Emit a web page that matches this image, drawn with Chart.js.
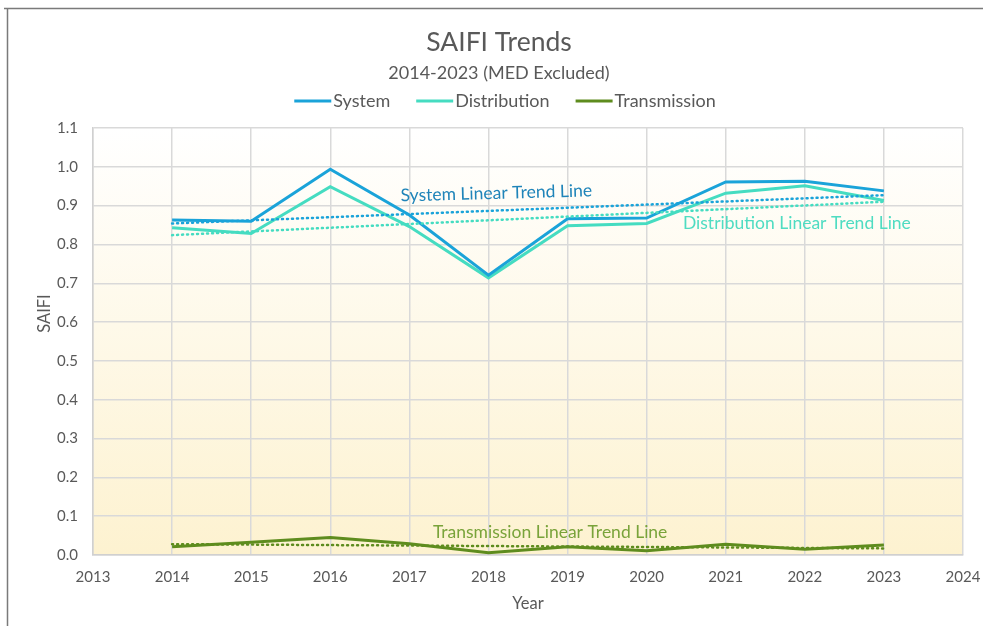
<!DOCTYPE html>
<html>
<head>
<meta charset="utf-8">
<script src="https://cdn.jsdelivr.net/npm/chart.js@4/dist/chart.umd.min.js"></script>
<style>
  html, body { margin: 0; padding: 0; background: #ffffff; }
  canvas { display: block; }
</style>
</head>
<body>
<canvas id="c" width="983" height="626"></canvas>
<script>
// ---- Data ----
const years = [2014, 2015, 2016, 2017, 2018, 2019, 2020, 2021, 2022, 2023];
const systemSAIFI = [0.863, 0.860, 0.994, 0.876, 0.721, 0.866, 0.868, 0.961, 0.963, 0.938];
const distributionSAIFI = [0.843, 0.828, 0.949, 0.846, 0.714, 0.848, 0.854, 0.932, 0.951, 0.913];
const transmissionSAIFI = [0.021, 0.033, 0.045, 0.029, 0.006, 0.021, 0.011, 0.028, 0.015, 0.026];
const trendYears = [2014, 2023];
const systemTrend = [0.854, 0.927];
const distributionTrend = [0.824, 0.910];
const transmissionTrend = [0.028, 0.017];
const yTicks = [0, 0.1, 0.2, 0.3, 0.4, 0.5, 0.6, 0.7, 0.8, 0.9, 1.0, 1.1];
const xRange = [2013, 2024];

const FONT = "Lato, 'Open Sans', sans-serif";
const TEXT = '#595959';
const C_SYS = '#1aa3d9';
const C_DIST = '#45dcc1';
const C_TRANS = '#5e8c1e';

const pts = (xs, ys) => xs.map((x, i) => ({x, y: ys[i]}));

const trendLabels = [
  {text: 'System Linear Trend Line', x: 2018.1, y: 0.932, color: '#1f84b9', rot: -1.5},
  {text: 'Distribution Linear Trend Line', x: 2021.9, y: 0.855, color: '#4fdcc2', rot: 0},
  {text: 'Transmission Linear Trend Line', x: 2018.78, y: 0.059, color: '#79a33a', rot: 0}
];

const decorPlugin = {
  id: 'decor',
  beforeDraw(chart) {
    const {ctx, chartArea: a} = chart;
    ctx.save();
    const g = ctx.createLinearGradient(0, a.top, 0, a.bottom);
    g.addColorStop(0, '#ffffff');
    g.addColorStop(1, '#fdf2d0');
    ctx.fillStyle = g;
    ctx.fillRect(a.left, a.top, a.right - a.left, a.bottom - a.top);
    ctx.restore();
  },
  afterDatasetsDraw(chart) {
    const {ctx} = chart;
    const xs = chart.scales.x, ys = chart.scales.y;
    ctx.save();
    ctx.font = '17.5px ' + FONT;
    ctx.textAlign = 'center';
    ctx.textBaseline = 'middle';
    trendLabels.forEach(l => {
      ctx.save();
      ctx.translate(xs.getPixelForValue(l.x), ys.getPixelForValue(l.y));
      ctx.rotate(l.rot * Math.PI / 180);
      ctx.fillStyle = l.color;
      ctx.fillText(l.text, 0, 0);
      ctx.restore();
    });
    ctx.restore();
  },
  afterDraw(chart) {
    const {ctx, width, height, chartArea: a} = chart;
    ctx.save();
    // outer chart border (top/left visible)
    ctx.strokeStyle = '#7a7a7a';
    ctx.lineWidth = 1.5;
    ctx.beginPath();
    ctx.moveTo(4, 8.5);
    ctx.lineTo(width, 8.5);
    ctx.moveTo(7.5, 8.5);
    ctx.lineTo(7.5, height);
    ctx.stroke();

    // y axis title
    ctx.save();
    ctx.font = '16.5px ' + FONT;
    ctx.fillStyle = TEXT;
    ctx.textAlign = 'center';
    ctx.textBaseline = 'middle';
    ctx.translate(45, (a.top + a.bottom) / 2 - 28);
    ctx.rotate(-Math.PI / 2);
    ctx.fillText('SAIFI', 0, 0);
    ctx.restore();

    // legend
    const items = chart.data.datasets.filter(d => !d.isTrend);
    ctx.font = '18px ' + FONT;
    const lineW = 37, gap = 2, spacing = 26;
    const widths = items.map(d => lineW + gap + ctx.measureText(d.label).width);
    const total = widths.reduce((s, w) => s + w, 0) + spacing * (items.length - 1);
    const tb = chart.titleBlock;
    let x = (tb.left + tb.right) / 2 + 6 - total / 2;
    const y = 101;
    ctx.textBaseline = 'middle';
    ctx.textAlign = 'left';
    items.forEach((d, i) => {
      ctx.strokeStyle = d.borderColor;
      ctx.lineWidth = 3;
      ctx.beginPath();
      ctx.moveTo(x, y);
      ctx.lineTo(x + lineW, y);
      ctx.stroke();
      ctx.fillStyle = TEXT;
      ctx.fillText(d.label, x + lineW + gap, y);
      x += widths[i] + spacing;
    });
    ctx.restore();
  }
};

const solid = (label, data, color) => ({
  label, data: pts(years, data), borderColor: color, backgroundColor: color,
  borderWidth: 3, pointRadius: 0, tension: 0, fill: false
});
const dotted = (label, data, color) => ({
  label, data: pts(trendYears, data), borderColor: color, backgroundColor: color,
  borderWidth: 2.5, pointRadius: 0, tension: 0, fill: false,
  borderDash: [1, 4], borderCapStyle: 'round', isTrend: true
});

new Chart(document.getElementById('c'), {
  type: 'line',
  plugins: [decorPlugin],
  data: {
    datasets: [
      dotted('System Trend', systemTrend, C_SYS),
      dotted('Distribution Trend', distributionTrend, C_DIST),
      dotted('Transmission Trend', transmissionTrend, C_TRANS),
      solid('System', systemSAIFI, C_SYS),
      solid('Distribution', distributionSAIFI, C_DIST),
      solid('Transmission', transmissionSAIFI, C_TRANS)
    ]
  },
  options: {
    responsive: false,
    animation: false,
    devicePixelRatio: 1,
    layout: {padding: {left: 35, right: 20, top: 0, bottom: 0}},
    font: {family: FONT},
    plugins: {
      title: {
        display: true, text: 'SAIFI Trends', color: TEXT,
        font: {family: FONT, size: 26.5, weight: 'normal'},
        padding: {top: 26.1, bottom: 3}
      },
      subtitle: {
        display: true, text: '2014-2023 (MED Excluded)', color: TEXT,
        font: {family: FONT, size: 18, weight: 'normal'},
        padding: {top: 1.3, bottom: 44.2}
      },
      legend: {display: false},
      tooltip: {enabled: false}
    },
    scales: {
      x: {
        type: 'linear', min: xRange[0], max: xRange[1],
        afterFit: s => { s.height = 71; },
        ticks: {
          stepSize: 1, color: TEXT, font: {family: FONT, size: 15}, padding: 0,
          callback: v => String(v)
        },
        grid: {color: '#d9d9d9', lineWidth: 1.5, drawTicks: true, tickLength: 13, tickColor: 'rgba(0,0,0,0)'},
        border: {color: '#d0d0d0', width: 1.5},
        title: {display: true, text: 'Year', color: TEXT, font: {family: FONT, size: 16.5}, padding: {top: 0, bottom: 12}}
      },
      y: {
        min: yTicks[0], max: yTicks[yTicks.length - 1],
        afterFit: s => { s.width = 58; },
        afterBuildTicks: s => { s.ticks = yTicks.map(v => ({value: v})); },
        ticks: {
          color: TEXT, font: {family: FONT, size: 15}, padding: 0,
          callback: v => Number(v).toFixed(1)
        },
        grid: {color: '#d9d9d9', lineWidth: 1.5, drawTicks: true, tickLength: 15, tickColor: 'rgba(0,0,0,0)'},
        border: {color: '#d0d0d0', width: 1.5},
        title: {display: false}
      }
    }
  }
});
</script>
</body>
</html>
